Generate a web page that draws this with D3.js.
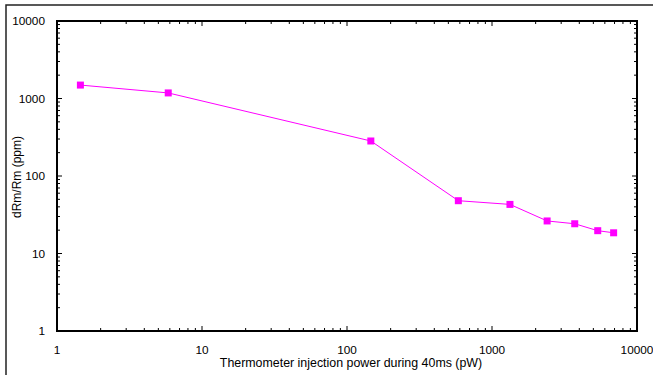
<!DOCTYPE html>
<html><head><meta charset="utf-8">
<script src="https://cdn.jsdelivr.net/npm/d3@7"></script>
<style>body{margin:0;background:#fff}svg{display:block}</style>
</head><body>
<svg id="c" width="653" height="375"></svg>
<script>
const powerPW = [1.45, 5.85, 146, 586, 1330, 2400, 3720, 5360, 6900];
const dRmPPM = [1490, 1180, 283, 48, 43, 26.3, 24.2, 19.7, 18.5];
const xTicks = [1, 10, 100, 1000, 10000];
const yTicks = [1, 10, 100, 1000, 10000];
const xTitle = "Thermometer injection power during 40ms (pW)";
const yTitle = "dRm/Rm (ppm)";

const svg = d3.select("#c");
const L = 57, R = 637, T = 21, B = 331;
const x = d3.scaleLog().domain([1, 10000]).range([L, R]);
const y = d3.scaleLog().domain([1, 10000]).range([B, T]);
const font = "Liberation Sans, Arial, sans-serif";

// outer frame
svg.append("rect").attr("x", 6).attr("y", 5).attr("width", 700).attr("height", 400)
  .attr("fill", "none").attr("stroke", "#222").attr("stroke-width", 1.5);

function minors(d) {
  const out = [];
  for (let e = Math.log10(d[0]); e < Math.log10(d[1]); e++)
    for (let k = 2; k <= 9; k++) out.push(k * Math.pow(10, e));
  return out;
}
const tickG = svg.append("g").attr("stroke", "#000").attr("stroke-width", 1);
[[xTicks, 5], [minors(x.domain()), 3]].forEach(([arr, len]) => {
  arr.forEach(v => {
    tickG.append("line").attr("x1", x(v)).attr("x2", x(v)).attr("y1", B).attr("y2", B - len);
    tickG.append("line").attr("x1", x(v)).attr("x2", x(v)).attr("y1", T).attr("y2", T + len);
  });
});
[[yTicks, 5], [minors(y.domain()), 3]].forEach(([arr, len]) => {
  arr.forEach(v => {
    tickG.append("line").attr("y1", y(v)).attr("y2", y(v)).attr("x1", L).attr("x2", L + len);
    tickG.append("line").attr("y1", y(v)).attr("y2", y(v)).attr("x1", R).attr("x2", R - len);
  });
});

svg.append("rect").attr("x", L).attr("y", T).attr("width", R - L).attr("height", B - T)
  .attr("fill", "none").attr("stroke", "#000").attr("stroke-width", 2);

svg.append("g").selectAll("text").data(xTicks).join("text")
  .attr("x", d => x(d)).attr("y", 354).attr("text-anchor", "middle")
  .attr("font-family", font).attr("font-size", 11.8).attr("fill", "#000").text(d => d);
svg.append("g").selectAll("text").data(yTicks).join("text")
  .attr("x", 45).attr("y", d => y(d) + 4).attr("text-anchor", "end")
  .attr("font-family", font).attr("font-size", 11.8).attr("fill", "#000").text(d => d);

svg.append("text").attr("x", 351).attr("y", 367).attr("text-anchor", "middle")
  .attr("font-family", font).attr("font-size", 12.4).text(xTitle);
svg.append("text").attr("transform", "translate(21,177) rotate(-90)").attr("text-anchor", "middle")
  .attr("font-family", font).attr("font-size", 12).text(yTitle);

const pts = powerPW.map((p, i) => [p, dRmPPM[i]]);
svg.append("path").datum(pts)
  .attr("d", d3.line().x(d => x(d[0])).y(d => y(d[1])))
  .attr("fill", "none").attr("stroke", "#ff00ff").attr("stroke-width", 1);
svg.append("g").selectAll("rect").data(pts).join("rect")
  .attr("x", d => x(d[0]) - 3.5).attr("y", d => y(d[1]) - 3.5)
  .attr("width", 7).attr("height", 7).attr("fill", "#ff00ff");
</script>
</body></html>
